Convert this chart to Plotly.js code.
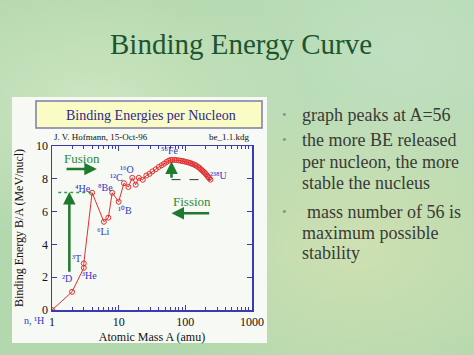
<!DOCTYPE html>
<html>
<head>
<meta charset="utf-8">
<script src="https://cdn.plot.ly/plotly-3.0.1.min.js"></script>
<style>
html,body{margin:0;padding:0;}
body{width:474px;height:355px;overflow:hidden;
background:
 radial-gradient(ellipse at 20% 30%, rgba(215,235,200,0.7) 0%, rgba(215,235,200,0) 40%),
 radial-gradient(ellipse at 75% 70%, rgba(225,230,180,0.6) 0%, rgba(225,230,180,0) 45%),
 radial-gradient(ellipse at 85% 15%, rgba(200,230,205,0.6) 0%, rgba(200,230,205,0) 40%),
 #b3d8ae;}
#chart{width:474px;height:355px;}
</style>
</head>
<body>
<div id="chart"></div>
<script>
// ---- data ----
const massA = [1,2,3,3,4,6,7,8,10,12,14,16,18,20,23,26,29,32,36,40,44,48,52,56,60,64,69,74,80,86,92,98,105,112,119,126,133,140,148,156,164,172,180,188,196,204,212,220,228,238];
const bindE = [0,1.11,2.57,2.84,7.15,5.38,5.63,7.15,6.6,7.73,7.5,8.06,7.64,8.06,7.94,8.2,8.3,8.45,8.58,8.72,8.82,8.92,9.02,9.1,9.15,9.15,9.15,9.14,9.12,9.1,9.08,9.05,9.02,8.99,8.96,8.92,8.88,8.84,8.78,8.72,8.65,8.57,8.5,8.43,8.36,8.28,8.2,8.12,8.04,7.95];

const xTickVals = [1,10,100,1000];
const xTickText = ['1','10','100','1000'];

// nuclide labels: text, A position, B/A position
const nuclideText = ['²D','³T','³He','⁴He','⁶Li','⁸Be','¹⁰B','¹²C','¹⁶O','⁵⁶Fe','²³⁸U'];
const nuclideA    = [1.68,2.37,3.7,2.9,6.0,6.4,12.6,9.3,13.5,59,310];
const nuclideBE   = [1.95,3.17,2.13,7.38,4.76,7.5,6.08,8.07,8.54,9.7,8.2];

// guide lines
const heLineA = [1.24,4];   const heLineBE = [7.17,7.17];
const uLineA  = [62,238];   const uLineBE  = [7.95,7.95];

// arrows: [tailA, tailBE, headA, headBE]
const fusionArrow   = [1.57,8.6, 4.7,8.6];
const fissionArrow  = [240,5.9, 62,5.9];
const fusionUpArrow = [1.82,2.24, 1.82,7.2];
const fissionUpArrow= [62,7.97, 62,9.05];

// ---- geometry helpers (pixel -> paper) ----
const L=52, R=252, T=146, B=310;
const xp = px => (px-L)/(R-L);
const yp = py => (B-py)/(B-T);
const serif = 'Liberation Serif, Times New Roman, serif';
const blue = '#3434c4';
const green = '#1d7a2e';
const axisBlue = '#3a3ab4';

const traces = [
  {x: heLineA, y: heLineBE, mode:'lines', line:{color:'#3a9a4a', width:1.5, dash:'dot'}, hoverinfo:'skip'},
  {x: uLineA, y: uLineBE, mode:'lines', line:{color:'#333', width:1, dash:'dash'}, hoverinfo:'skip'},
  {x: massA, y: bindE, mode:'lines+markers',
   line:{color:'#e03030', width:1},
   marker:{symbol:'circle-open', size:5, color:'#e03030', line:{width:1}},
   hoverinfo:'skip'}
];

const anns = [];
// slide title
anns.push({xref:'paper', yref:'paper', x:xp(241), y:yp(44), text:'Binding Energy Curve', showarrow:false,
  xanchor:'center', yanchor:'middle', font:{family:serif, size:29, color:'#1d5530'}});
// chart header box title
anns.push({xref:'paper', yref:'paper', x:xp(151), y:yp(115), text:'Binding Energies per Nucleon', showarrow:false,
  xanchor:'center', yanchor:'middle', font:{family:serif, size:14, color:'#2a2a8a'}});
anns.push({xref:'paper', yref:'paper', x:xp(52), y:yp(137), text:'J. V. Hofmann, 15-Oct-96', showarrow:false,
  xanchor:'left', yanchor:'middle', font:{family:serif, size:9, color:'#111'}});
anns.push({xref:'paper', yref:'paper', x:xp(251), y:yp(137), text:'be_1.1.kdg', showarrow:false,
  xanchor:'right', yanchor:'middle', font:{family:serif, size:9, color:'#111'}});
anns.push({xref:'paper', yref:'paper', x:xp(34), y:yp(320), text:'n, ¹H', showarrow:false,
  xanchor:'center', yanchor:'middle', font:{family:serif, size:10, color:blue}});
// nuclide labels
nuclideText.forEach((t,i)=>anns.push({x:Math.log10(nuclideA[i]), y:nuclideBE[i], text:t, showarrow:false,
  xanchor:'center', yanchor:'middle', font:{family:serif, size:10, color:blue}}));
// Fusion / Fission
anns.push({x:Math.log10(2.78), y:9.25, text:'Fusion', showarrow:false, font:{family:serif, size:13, color:'#2a8a3a'}});
anns.push({x:Math.log10(125), y:6.6, text:'Fission', showarrow:false, font:{family:serif, size:13, color:'#2a8a3a'}});
[fusionArrow, fissionArrow, fusionUpArrow, fissionUpArrow].forEach(a=>anns.push({
  x:Math.log10(a[2]), y:a[3], ax:Math.log10(a[0]), ay:a[1], axref:'x', ayref:'y', xref:'x', yref:'y',
  text:'', showarrow:true, arrowhead:2, arrowsize:1, arrowwidth:2.5, arrowcolor:green, standoff:0}));
// bullets
const bulletLines = [
  {t:'graph peaks at A=56', y:115, b:true},
  {t:'the more BE released', y:140, b:true},
  {t:'per nucleon, the more', y:162},
  {t:'stable the nucleus', y:183},
  {t:' mass number of 56 is', y:212, b:true, x:305},
  {t:'maximum possible', y:233},
  {t:'stability', y:253}
];
bulletLines.forEach(l=>{
  anns.push({xref:'paper', yref:'paper', x:xp(l.x||300), y:yp(l.y), text:l.t.trim(), showarrow:false,
    xanchor:'left', yanchor:'middle', font:{family:serif, size:18, color:'#3a3a36'}});
  if(l.b) anns.push({xref:'paper', yref:'paper', x:xp(284), y:yp(l.y-1), text:'•', showarrow:false,
    xanchor:'center', yanchor:'middle', font:{family:serif, size:13, color:'#7c988e'}});
});

const shapes = [
  {type:'rect', xref:'paper', yref:'paper', x0:xp(12), x1:xp(267), y0:yp(343), y1:yp(97), layer:'below',
   fillcolor:'#f7f9f4', line:{width:0}},
  {type:'rect', xref:'paper', yref:'paper', x0:xp(36), x1:xp(262), y0:yp(128), y1:yp(101), layer:'below',
   fillcolor:'#fbfbc6', line:{color:'#7c7ca4', width:1.5}}
];

const layout = {
  width:474, height:355,
  margin:{l:L, r:474-R, t:T, b:355-B, pad:0},
  paper_bgcolor:'rgba(0,0,0,0)', plot_bgcolor:'#ffffff',
  showlegend:false, hovermode:false,
  font:{family:serif, color:'#111'},
  xaxis:{type:'log', range:[0,3], tickmode:'array', tickvals:xTickVals, ticktext:xTickText,
    ticks:'inside', ticklen:5, tickwidth:1.2, tickcolor:axisBlue, mirror:'ticks',
    showline:true, linecolor:axisBlue, linewidth:1.5, showgrid:false, zeroline:false,
    minor:{dtick:'D1', ticks:'inside', ticklen:3, tickcolor:axisBlue, tickwidth:1, showgrid:false},
    tickfont:{family:serif, size:12, color:'#111'},
    title:{text:'Atomic Mass A (amu)', font:{family:serif, size:12, color:'#111'}, standoff:4}},
  yaxis:{range:[0,10], dtick:2, ticks:'inside', ticklen:5, tickwidth:1.2, tickcolor:axisBlue, mirror:'ticks',
    showline:true, linecolor:axisBlue, linewidth:1.5, showgrid:false, zeroline:false,
    tickfont:{family:serif, size:12, color:'#111'},
    title:{text:'Binding Energy B/A (MeV/nucl)', font:{family:serif, size:12, color:'#111'}, standoff:10}},
  shapes:shapes, annotations:anns
};

Plotly.newPlot('chart', traces, layout, {displayModeBar:false, staticPlot:true});
</script>
</body>
</html>
